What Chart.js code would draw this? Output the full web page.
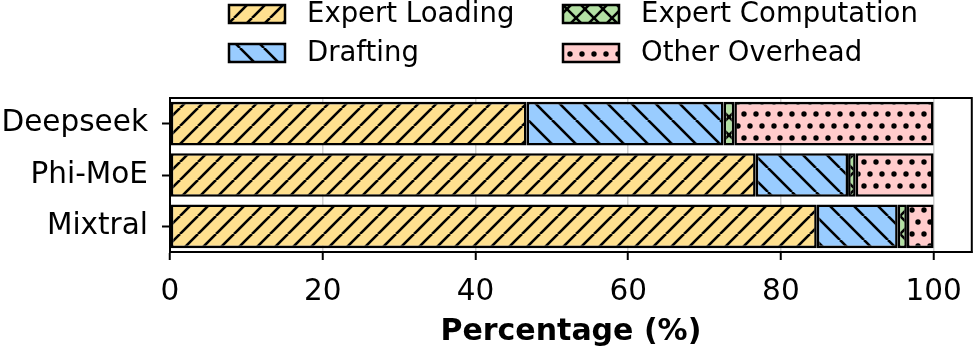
<!DOCTYPE html>
<html>
<head>
<meta charset="utf-8">
<script src="https://cdn.jsdelivr.net/npm/chart.js@4.4.0/dist/chart.umd.min.js"></script>
<style>
  body { margin: 0; background: #fff; }
  canvas { display: block; }
</style>
</head>
<body>
<canvas id="chart" width="977" height="352"></canvas>
<script>
// data
var models = ['Deepseek', 'Phi-MoE', 'Mixtral'];
var expertLoading = [46.7, 76.7, 84.7];
var drafting = [25.8, 12.1, 10.6];
var expertComputation = [1.4, 1.0, 1.2];
var otherOverhead = [26.1, 10.2, 3.5];
var xTicks = [0, 20, 40, 60, 80, 100];

var FONT = '"DejaVu Sans", sans-serif';

function hatch(color, kind, size) {
  var c = document.createElement('canvas');
  c.width = size; c.height = kind == '.' ? size * 2 : size;
  var g = c.getContext('2d');
  g.fillStyle = color;
  g.fillRect(0, 0, c.width, c.height);
  g.strokeStyle = '#000';
  g.fillStyle = '#000';
  g.lineWidth = 2.6;
  if (kind == '/' || kind == 'x') {
    for (var k = -1; k <= 1; k++) {
      g.beginPath(); g.moveTo(k * size, size); g.lineTo(k * size + size, 0); g.stroke();
    }
  }
  if (kind == '\\' || kind == 'x') {
    for (var k = -1; k <= 1; k++) {
      g.beginPath(); g.moveTo(k * size, 0); g.lineTo(k * size + size, size); g.stroke();
    }
  }
  if (kind == '.') {
    var pts = [[size / 2, size / 2], [0, size * 1.5], [size, size * 1.5]];
    pts.forEach(function (p) {
      g.beginPath(); g.arc(p[0], p[1], 2.7, 0, Math.PI * 2); g.fill();
    });
  }
  return document.getElementById('chart').getContext('2d').createPattern(c, 'repeat');
}

var series = [
  { label: 'Expert Loading', data: expertLoading, color: '#ffe08f', kind: '/', size: 18 },
  { label: 'Drafting', data: drafting, color: '#99ccff', kind: '\\', size: 24 },
  { label: 'Expert Computation', data: expertComputation, color: '#b3e0a3', kind: 'x', size: 18 },
  { label: 'Other Overhead', data: otherOverhead, color: '#ffcccc', kind: '.', size: 12 }
];

// matplotlib-like legend: 2 columns, column-major order
var legendPlugin = {
  id: 'mplLegend',
  afterDraw: function (chart) {
    var ctx = chart.ctx;
    var cols = [229, 563];
    var rows = [5, 44];
    ctx.save();
    chart.data.datasets.forEach(function (ds, i) {
      var x = cols[Math.floor(i / 2)];
      var y = rows[i % 2];
      ctx.fillStyle = ds.backgroundColor;
      ctx.fillRect(x, y, 56, 18);
      ctx.lineWidth = 2.5;
      ctx.strokeStyle = '#000';
      ctx.strokeRect(x, y, 56, 18);
      ctx.fillStyle = '#000';
      ctx.font = '27.5px ' + FONT;
      ctx.textBaseline = 'middle';
      ctx.fillText(ds.label, x + 78, y + 10);
    });
    ctx.restore();
  }
};

// top and right spines
var framePlugin = {
  id: 'frame',
  afterDatasetsDraw: function (chart) {
    var a = chart.chartArea, ctx = chart.ctx;
    ctx.save();
    ctx.strokeStyle = '#000';
    ctx.lineWidth = 2;
    ctx.strokeRect(a.left, a.top, a.right - a.left, a.bottom - a.top);
    ctx.restore();
  }
};

new Chart(document.getElementById('chart'), {
  type: 'bar',
  data: {
    labels: models,
    datasets: series.map(function (s) {
      return {
        label: s.label,
        data: s.data,
        backgroundColor: hatch(s.color, s.kind, s.size),
        borderColor: '#000',
        borderWidth: 2.6,
        borderSkipped: false,
        categoryPercentage: 1.0,
        barPercentage: 0.85
      };
    })
  },
  options: {
    indexAxis: 'y',
    responsive: false,
    animation: false,
    layout: { padding: { top: 98, right: 5, left: 0, bottom: 0 } },
    plugins: {
      legend: { display: false },
      tooltip: { enabled: false }
    },
    scales: {
      x: {
        stacked: true,
        min: 0,
        max: 105,
        afterBuildTicks: function (scale) {
          scale.ticks = xTicks.map(function (v) { return { value: v }; });
        },
        afterFit: function (scale) { scale.height = 100; },
        grid: {
          color: 'rgba(170,170,170,0.55)',
          lineWidth: 1.5,
          borderDash: [6, 3],
          tickColor: '#000',
          tickLength: 8,
          tickWidth: 2
        },
        border: { display: true, color: '#000', width: 2 },
        ticks: {
          color: '#000',
          padding: 15,
          font: { family: FONT, size: 29.5 }
        },
        title: {
          display: true,
          text: 'Percentage (%)',
          color: '#000',
          padding: { top: 4, bottom: 2 },
          font: { family: FONT, size: 30, weight: 'bold' }
        }
      },
      y: {
        stacked: true,
        afterFit: function (scale) { scale.width = 170; },
        grid: {
          offset: false,
          drawOnChartArea: false,
          tickColor: '#000',
          tickLength: 8,
          tickWidth: 2
        },
        border: { display: true, color: '#000', width: 2 },
        ticks: {
          color: '#000',
          padding: 14,
          font: { family: FONT, size: 29.5 }
        }
      }
    }
  },
  plugins: [legendPlugin, framePlugin]
});
</script>
</body>
</html>
